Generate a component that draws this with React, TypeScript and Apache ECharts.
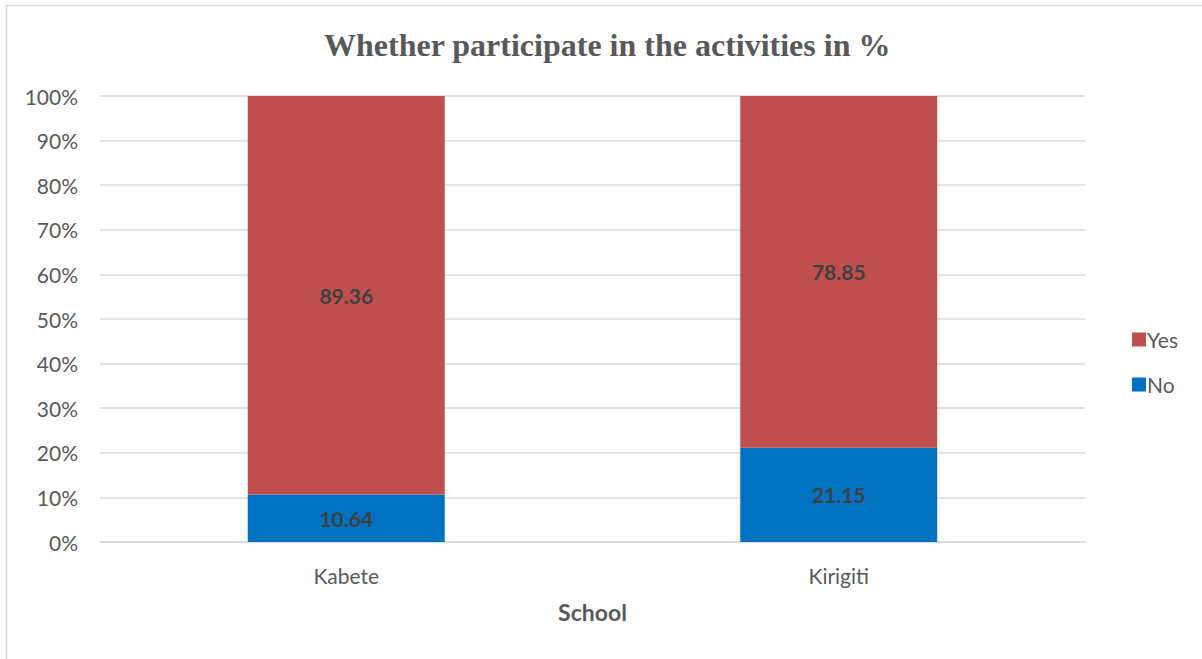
import React, { useEffect, useRef } from "react";
import * as echarts from "echarts";

const categories = ["Kabete", "Kirigiti"];
const noValues = [10.64, 21.15];
const yesValues = [89.36, 78.85];
const yTicks = [0, 10, 20, 30, 40, 50, 60, 70, 80, 90, 100];

export default function App() {
  const ref = useRef<HTMLDivElement>(null);
  useEffect(() => {
    document.body.style.margin = "0";
    const chart = echarts.init(ref.current!, null, { renderer: "svg" });
    const labelStyle = {
      show: true,
      position: "inside" as const,
      color: "#404040",
      fontFamily: "Lato",
      fontWeight: "bold" as const,
      fontSize: 21,
      formatter: (p: any) => p.value.toFixed(2),
    };
    chart.setOption({
      animation: false,
      backgroundColor: "#ffffff",
      title: {
        text: "Whether participate in the activities in %",
        left: 319,
        top: 24,
        textStyle: {
          fontFamily: "Liberation Serif",
          fontWeight: "bold",
          fontSize: 32,
          color: "#595959",
        },
      },
      graphic: [
        {
          type: "rect",
          shape: { x: 6.5, y: 5.5, width: 1210, height: 670 },
          style: { fill: "none", stroke: "#d9d9d9", lineWidth: 1.5 },
          silent: true,
        },
      ],
      legend: {
        data: ["Yes", "No"],
        orient: "vertical",
        left: 1127,
        top: 324,
        itemWidth: 14,
        itemHeight: 14,
        itemGap: 24,
        icon: "rect",
        textStyle: { fontFamily: "Lato", fontSize: 21, color: "#595959", padding: [0, 0, 0, -4] },
      },
      grid: { left: 100, right: 117, top: 96, bottom: 117 },
      xAxis: {
        type: "category",
        data: categories,
        name: "School",
        nameLocation: "middle",
        nameGap: 58,
        nameTextStyle: { fontFamily: "Lato", fontWeight: "bold", fontSize: 23, color: "#595959" },
        axisLine: { show: true, lineStyle: { color: "#d9d9d9", width: 1.5 } },
        axisTick: { show: false },
        axisLabel: { margin: 23, fontFamily: "Lato", fontSize: 21, color: "#595959" },
      },
      yAxis: {
        type: "value",
        min: yTicks[0],
        max: yTicks[yTicks.length - 1],
        interval: 10,
        axisLine: { show: false },
        axisTick: { show: false },
        splitLine: { lineStyle: { color: "#d9d9d9", width: 1.5 } },
        axisLabel: {
          margin: 22,
          fontFamily: "Lato",
          fontSize: 21,
          color: "#595959",
          formatter: "{value}%",
        },
      },
      series: [
        {
          name: "No",
          type: "bar",
          stack: "total",
          data: noValues,
          barWidth: "40%",
          itemStyle: { color: "#0070c0" },
          label: labelStyle,
        },
        {
          name: "Yes",
          type: "bar",
          stack: "total",
          data: yesValues,
          barWidth: "40%",
          itemStyle: { color: "#c0504d" },
          label: labelStyle,
        },
      ],
    });
    return () => chart.dispose();
  }, []);
  return <div ref={ref} style={{ width: 1202, height: 659 }} />;
}
